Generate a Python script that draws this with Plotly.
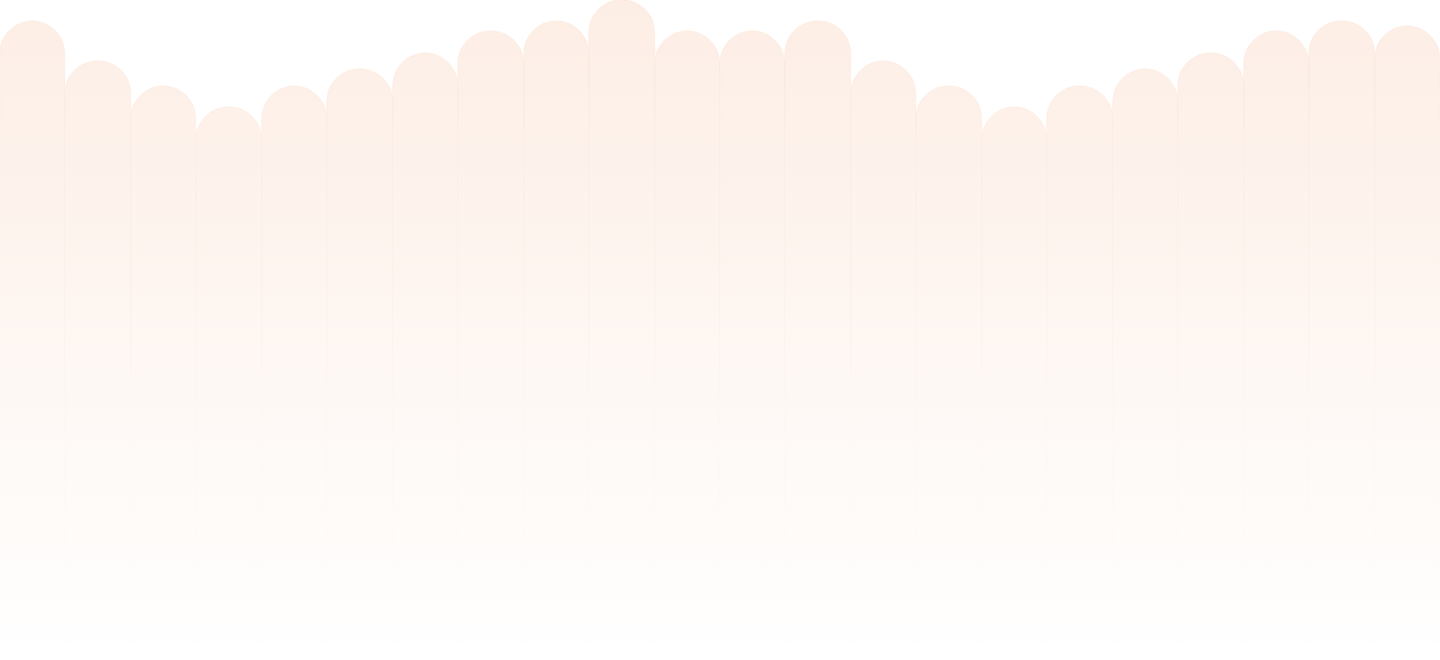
import plotly.graph_objects as go

categories = [f"B{i+1}" for i in range(22)]
values = [624, 584, 559, 538, 559, 576, 592, 614, 624, 645, 614,
          614, 624, 584, 559, 538, 559, 576, 592, 614, 624, 619]

bar_color = "#FDEEE5"
edge_color = "rgba(248,205,178,0.35)"

n = len(categories)
ymax = max(values)

fig = go.Figure()
fig.add_trace(go.Bar(
    x=list(range(n)), y=values,
    marker=dict(color=bar_color, cornerradius="50%",
                line=dict(color=edge_color, width=0.6)),
    hoverinfo="skip", showlegend=False,
))

# white fade overlay (vertical gradient) drawn above the bars
fig.add_trace(go.Scatter(
    x=[-0.5, n - 0.5, n - 0.5, -0.5, -0.5],
    y=[-20, -20, ymax, ymax, -20],
    mode="lines", line=dict(width=0), fill="toself",
    fillgradient=dict(type="vertical",
                      colorscale=[[0, "rgba(255,255,255,1)"],
                                  [0.06, "rgba(255,255,255,0.95)"],
                                  [1, "rgba(255,255,255,0)"]]),
    hoverinfo="skip", showlegend=False,
))

fig.update_layout(
    width=1440, height=660,
    margin=dict(l=0, r=0, t=0, b=0),
    paper_bgcolor="white", plot_bgcolor="white",
    bargap=0,
    xaxis=dict(visible=False, range=[-0.5, n - 0.5]),
    yaxis=dict(visible=False, range=[-15, ymax]),
)

fig.write_html("out.html", config={"displayModeBar": False},
               post_script="document.body.style.margin='0';document.body.style.overflow='hidden';")
